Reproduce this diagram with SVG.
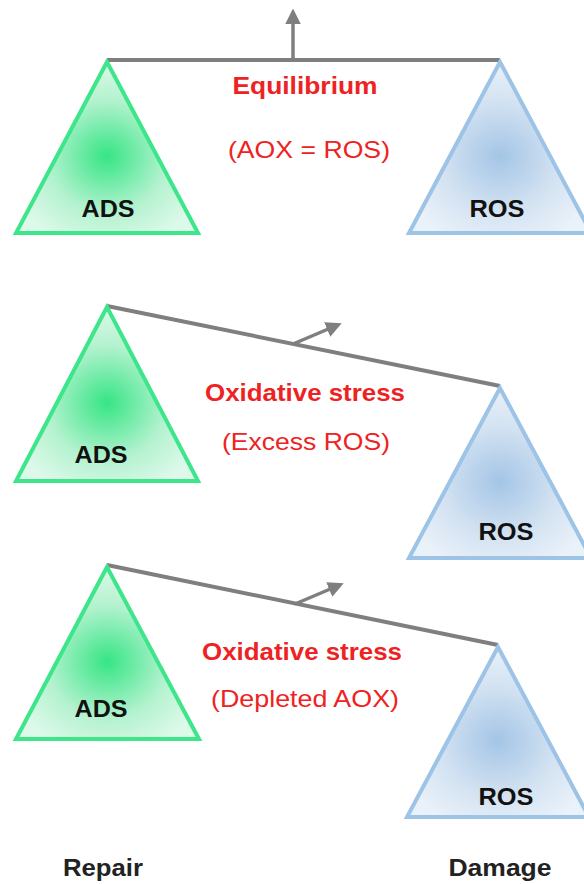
<svg xmlns="http://www.w3.org/2000/svg" width="584" height="884" viewBox="0 0 584 884">
<defs>
<radialGradient id="gG" cx="0.5" cy="0.55" r="0.55">
<stop offset="0" stop-color="#36e585"/>
<stop offset="0.6" stop-color="#b4f2cf"/>
<stop offset="1" stop-color="#dcf9e9"/>
</radialGradient>
<radialGradient id="gB" cx="0.5" cy="0.55" r="0.55">
<stop offset="0" stop-color="#a4c5e6"/>
<stop offset="0.6" stop-color="#d4e3f2"/>
<stop offset="1" stop-color="#e9f1f9"/>
</radialGradient>
<marker id="ah" viewBox="0 0 10 10" refX="4" refY="5" markerWidth="4.5" markerHeight="4.5" orient="auto" markerUnits="strokeWidth">
<path d="M0,0 L10,5 L0,10 Z" fill="#7f7f7f"/>
</marker>
<style>
.ads{fill:url(#gG);stroke:#3de68a;stroke-width:4;stroke-linejoin:miter}
.ros{fill:url(#gB);stroke:#9dc3e6;stroke-width:4;stroke-linejoin:miter}
.beam{stroke:#7f7f7f;stroke-width:4;fill:none}
.arr{stroke:#7f7f7f;stroke-width:3.5;fill:none;marker-end:url(#ah)}
.lbl{font-family:"Liberation Sans",Arial,sans-serif;font-weight:bold;font-size:24px;fill:#111;text-anchor:middle}
.t1{font-family:"Liberation Sans",Arial,sans-serif;font-weight:bold;font-size:24px;fill:#ee2222;text-anchor:middle}
.t2{font-family:"Liberation Sans",Arial,sans-serif;font-size:24px;fill:#ee2222;text-anchor:middle}
.bot{font-family:"Liberation Sans",Arial,sans-serif;font-weight:bold;font-size:24px;fill:#222;text-anchor:middle}
</style>
</defs>
<g id="connectors">
<line class="beam" x1="107" y1="60" x2="500" y2="60"/>
<line class="arr" x1="293" y1="60" x2="293" y2="18"/>
<line class="beam" x1="107" y1="306" x2="500" y2="386"/>
<line class="arr" x1="293" y1="344" x2="333" y2="327"/>
<line class="beam" x1="107" y1="565" x2="498" y2="645"/>
<line class="arr" x1="295" y1="604" x2="335" y2="587"/>
</g>
<g id="ads1"><polygon class="ads" points="107,62 16,233 198,233"/><text class="lbl" x="108" y="217" textLength="53" lengthAdjust="spacingAndGlyphs">ADS</text></g>
<g id="ros1"><polygon class="ros" points="500,62 409,233 591,233"/><text class="lbl" x="497" y="217" textLength="55" lengthAdjust="spacingAndGlyphs">ROS</text></g>
<g id="label1">
<text class="t1" x="305" y="94" textLength="145" lengthAdjust="spacingAndGlyphs">Equilibrium</text>
<text class="t2" x="309" y="158" textLength="162" lengthAdjust="spacingAndGlyphs">(AOX = ROS)</text>
</g>
<g id="ads2"><polygon class="ads" points="107,307 16,481 198,481"/><text class="lbl" x="101" y="463" textLength="53" lengthAdjust="spacingAndGlyphs">ADS</text></g>
<g id="ros2"><polygon class="ros" points="500,388 409,558 591,558"/><text class="lbl" x="506" y="540" textLength="55" lengthAdjust="spacingAndGlyphs">ROS</text></g>
<g id="label2">
<text class="t1" x="305" y="401" textLength="200" lengthAdjust="spacingAndGlyphs">Oxidative stress</text>
<text class="t2" x="306" y="450" textLength="168" lengthAdjust="spacingAndGlyphs">(Excess ROS)</text>
</g>
<g id="ads3"><polygon class="ads" points="107,567 16,739 199,739"/><text class="lbl" x="101" y="717" textLength="53" lengthAdjust="spacingAndGlyphs">ADS</text></g>
<g id="ros3"><polygon class="ros" points="498,647 407,817 589,817"/><text class="lbl" x="506" y="805" textLength="55" lengthAdjust="spacingAndGlyphs">ROS</text></g>
<g id="label3">
<text class="t1" x="302" y="660" textLength="200" lengthAdjust="spacingAndGlyphs">Oxidative stress</text>
<text class="t2" x="305" y="707" textLength="188" lengthAdjust="spacingAndGlyphs">(Depleted AOX)</text>
</g>
<g id="repair"><text class="bot" x="103" y="876" textLength="80" lengthAdjust="spacingAndGlyphs">Repair</text></g>
<g id="damage"><text class="bot" x="500" y="876" textLength="103" lengthAdjust="spacingAndGlyphs">Damage</text></g>
</svg>
